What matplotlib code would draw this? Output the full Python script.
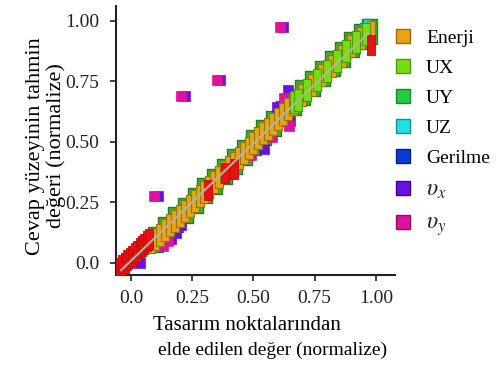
import matplotlib
matplotlib.use("Agg")
import matplotlib.pyplot as plt
from matplotlib.lines import Line2D

plt.rcParams['font.family'] = ['Liberation Serif', 'DejaVu Serif']
plt.rcParams['mathtext.fontset'] = 'stix'

# ---- data (normalized) ----
energy_x = [0.08, 0.10, 0.12, 0.14, 0.16, 0.18, 0.20, 0.22, 0.24, 0.26, 0.28, 0.30,
            0.32, 0.34, 0.36, 0.38, 0.40, 0.42, 0.44, 0.46, 0.48, 0.50, 0.52, 0.54,
            0.56, 0.58, 0.60, 0.62, 0.64, 0.66, 0.70, 0.74, 0.78, 0.82, 0.86, 0.90,
            0.94, 0.98]
energy_y = [0.085, 0.10, 0.115, 0.135, 0.155, 0.175, 0.195, 0.215, 0.235, 0.255, 0.275, 0.295,
            0.315, 0.335, 0.355, 0.375, 0.395, 0.415, 0.435, 0.455, 0.475, 0.495, 0.515, 0.535,
            0.555, 0.575, 0.595, 0.615, 0.635, 0.655, 0.695, 0.735, 0.775, 0.815, 0.855, 0.895,
            0.93, 0.955]

ux_x = [0.665, 0.68, 0.72, 0.76, 0.80, 0.84, 0.88, 0.92, 0.96]
ux_y = [0.665, 0.675, 0.715, 0.755, 0.795, 0.835, 0.875, 0.915, 0.945]

uy_x = [0.10, 0.14, 0.18, 0.22, 0.26, 0.30, 0.34, 0.38, 0.42, 0.46, 0.50, 0.54, 0.58,
        0.62, 0.66, 0.70, 0.74, 0.78, 0.82, 0.86, 0.90, 0.94, 0.97]
uy_y = [0.10, 0.14, 0.18, 0.22, 0.26, 0.30, 0.34, 0.38, 0.42, 0.46, 0.50, 0.54, 0.58,
        0.62, 0.665, 0.705, 0.745, 0.785, 0.825, 0.865, 0.905, 0.94, 0.96]

uz_x = [0.95, 0.965]
uz_y = [0.955, 0.97]

stress_x = [0.30, 0.55, 0.80]
stress_y = [0.29, 0.54, 0.79]

vx_x = [0.62, 0.365, 0.22, 0.11, 0.035, 0.165, 0.185, 0.205, 0.595, 0.64, 0.65, 0.545, 0.44]
vx_y = [0.975, 0.755, 0.69, 0.275, 0.0, 0.10, 0.125, 0.155, 0.645, 0.715, 0.585, 0.47, 0.43]

vy_x = [0.61, 0.35, 0.205, 0.095, 0.13, 0.15, 0.625, 0.575, 0.645, 0.49]
vy_y = [0.975, 0.755, 0.69, 0.275, 0.07, 0.09, 0.68, 0.52, 0.565, 0.445]

red_x = [-0.045, -0.035, -0.025, -0.015, -0.005, 0.005, 0.015, 0.025, 0.035, 0.045, 0.055,
         0.065, 0.075, 0.315, 0.385, 0.42, 0.98]
red_y = [-0.02, -0.01, 0.0, 0.01, 0.02, 0.03, 0.04, 0.05, 0.06, 0.07, 0.08,
         0.09, 0.10, 0.30, 0.37, 0.39, 0.90]

ref_x = [-0.04, 0.97]
ref_y = [-0.03, 0.95]

xticks = [0.0, 0.25, 0.50, 0.75, 1.00]
xtick_labels = ["0.0", "0.25", "0.50", "0.75", "1.00"]
yticks = [0.0, 0.25, 0.50, 0.75, 1.00]
ytick_labels = ["0.0", "0.25", "0.50", "0.75", "1.00"]

legend_labels = ["Enerji", "UX", "UY", "UZ", "Gerilme", r"$\upsilon_x$", r"$\upsilon_y$"]
legend_colors = ["#E8A317", "#77DD11", "#22CC44", "#22E0E0", "#0A3BD0", "#6A10E0", "#E010A0"]
legend_edges = ["#9A6A0A", "#4A9A10", "#178A2A", "#109090", "#05208A", "#400090", "#901060"]

# ---- figure ----
fig = plt.figure(figsize=(5.02, 3.67), dpi=100)
ax = fig.add_axes([116/502, 1-275/367, (395-116)/502, (275-6)/367])

bar = [(-0.2, -0.5), (0.2, -0.5), (0.2, 0.5), (-0.2, 0.5), (-0.2, -0.5)]
wide = [(-0.3, -0.5), (0.3, -0.5), (0.3, 0.5), (-0.3, 0.5), (-0.3, -0.5)]

ax.plot(uy_x, uy_y, ls='none', marker=wide, ms=18, mfc='#3FB030', mec='#2A7A20', mew=1, zorder=2)
ax.plot(stress_x, stress_y, ls='none', marker='s', ms=6, mfc=legend_colors[4], mec=legend_edges[4], mew=1, zorder=2)
ax.plot(uz_x, uz_y, ls='none', marker=bar, ms=13, mfc=legend_colors[3], mec=legend_edges[3], mew=1, zorder=2)
ax.plot(vx_x, vx_y, ls='none', marker='s', ms=7.5, mfc=legend_colors[5], mec=legend_colors[5], mew=0.5, zorder=3)
ax.plot(vy_x, vy_y, ls='none', marker='s', ms=7.5, mfc=legend_colors[6], mec=legend_colors[6], mew=0.5, zorder=3)
ax.plot(energy_x, energy_y, ls='none', marker=bar, ms=16, mfc=legend_colors[0], mec='#8A7A10', mew=0.8, zorder=4)
ax.plot(ux_x, ux_y, ls='none', marker=bar, ms=16, mfc=legend_colors[1], mec='#4A9A10', mew=0.8, zorder=4)
ax.plot(red_x, red_y, ls='none', marker=bar, ms=15, mfc='#E81010', mec='#C00A0A', mew=0.6, zorder=5)
ax.plot(ref_x, ref_y, color='#B8B0A0', lw=1.5, zorder=6)

ax.set_xlim(-0.061, 1.078)
ax.set_ylim(-0.05, 1.062)
ax.set_xticks(xticks)
ax.set_xticklabels(xtick_labels)
ax.set_yticks(yticks)
ax.set_yticklabels(ytick_labels)
for s in ['top', 'right']:
    ax.spines[s].set_visible(False)
for s in ['left', 'bottom']:
    ax.spines[s].set_linewidth(1.5)
    ax.spines[s].set_color('#222222')
ax.tick_params(axis='both', direction='out', length=4, width=1.2, labelsize=14, colors='#222222')
ax.tick_params(axis='y', pad=8)
ax.tick_params(axis='x', pad=7)

fig.text(46/502, 1-146/367, "Cevap yüzeyinin tahmin\ndeğeri (normalize)", rotation=90,
         ha='center', va='center', fontsize=16, multialignment='center', linespacing=1.12)
fig.text(247/502, 1-325/367, "Tasarım noktalarından", ha='center', va='center', fontsize=15)
fig.text(273/502, 1-350/367, "elde edilen değer (normalize)", ha='center', va='center', fontsize=14)

handles = [Line2D([], [], ls='none', marker='s', ms=10.5, mfc=c, mec=e, mew=1)
           for c, e in zip(legend_colors, legend_edges)]
leg = fig.legend(handles, legend_labels, loc='upper left', bbox_to_anchor=(393/502, 1-29/367),
                 frameon=False, fontsize=14, handlelength=1.0, handletextpad=0.7,
                 labelspacing=0.64, borderaxespad=0, borderpad=0)
for t in leg.get_texts()[5:]:
    t.set_fontsize(17)
    t.set_color('#202048')

fig.savefig("out.png", dpi=100)
